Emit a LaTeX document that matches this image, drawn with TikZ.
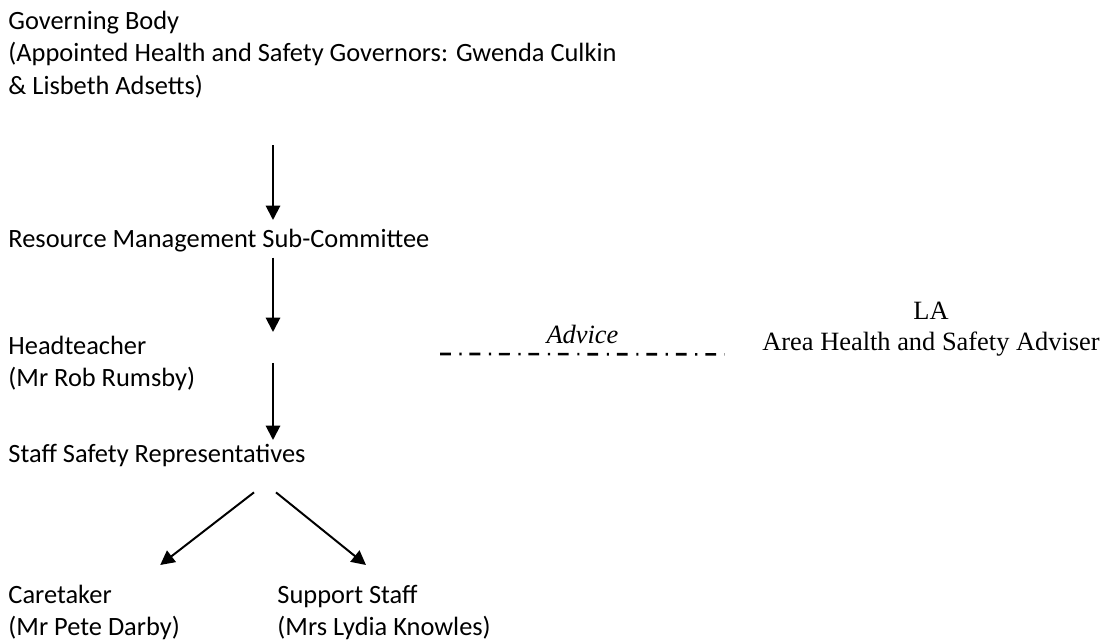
\documentclass[tikz,border=0pt]{standalone}
\usepackage{fontspec}
\setmainfont{Carlito}
\newfontfamily\timesfont{Liberation Serif}
\usetikzlibrary{arrows.meta,calc}

\tikzset{
  entry/.style={anchor=north west, inner sep=0pt, align=left,
    font=\fontsize{12}{14.6}\selectfont},
  flow/.style={-{Triangle[length=6.5pt,width=6.5pt]}, line width=0.9pt},
  advicedash/.style={line width=1.2pt,
    dash pattern=on 4.9pt off 3.9pt on 1pt off 3.6pt}
}

\begin{document}
\begin{tikzpicture}[x=0.4545pt,y=-0.4545pt]
\useasboundingbox (0,0) rectangle (1106,644);
\coordinate (spine) at (273,0);

% Governing body
\node[entry] (gov) at (8,11) {Governing Body\\(Appointed Health and Safety Governors: Gwenda Culkin\\\& Lisbeth Adsetts)};

% Sub-committee
\node[entry] (res) at (8,229) {Resource Management Sub-Committee};

% Headteacher
\node[entry] (head) at (8,336) {Headteacher\\(Mr Rob Rumsby)};

% Staff representatives
\node[entry] (staff) at (8,444) {Staff Safety Representatives};

% Caretaker and support staff
\node[entry] (care) at (8,585) {Caretaker\\(Mr Pete Darby)};
\node[entry] (support) at (277,585) {Support Staff\\(Mrs Lydia Knowles)};

% LA adviser
\node[entry, anchor=north, align=center,
  font=\timesfont\fontsize{12}{13.8}\selectfont] (la) at (931,302)
  {LA\\Area Health and Safety Adviser};

% Line of management
\draw[flow] ($(gov.south -| spine)+(0,47)$) -- ($(res.north -| spine)+(0,-9)$);
\draw[flow] ($(res.south -| spine)+(0,5)$) -- ($(head.north -| spine)+(0,-4)$);
\draw[flow] ($(head.north -| spine)+(0,27)$) -- ($(staff.north -| spine)+(0,-4)$);
\draw[flow] ($(staff.south -| spine)+(-19,25)$) -- ($(care.north east)+(-20,-20)$);
\draw[flow] ($(staff.south -| spine)+(3,25)$) -- ($(support.north west)+(89,-20)$);

% Advice
\draw[advicedash] ($(head.north -| spine)+(167,18)$) -- ($(la.south west)+(-37,-2)$)
  node[midway, above=1pt, font=\timesfont\itshape\fontsize{12}{13.8}\selectfont] (adv) {Advice};

\end{tikzpicture}
\end{document}
